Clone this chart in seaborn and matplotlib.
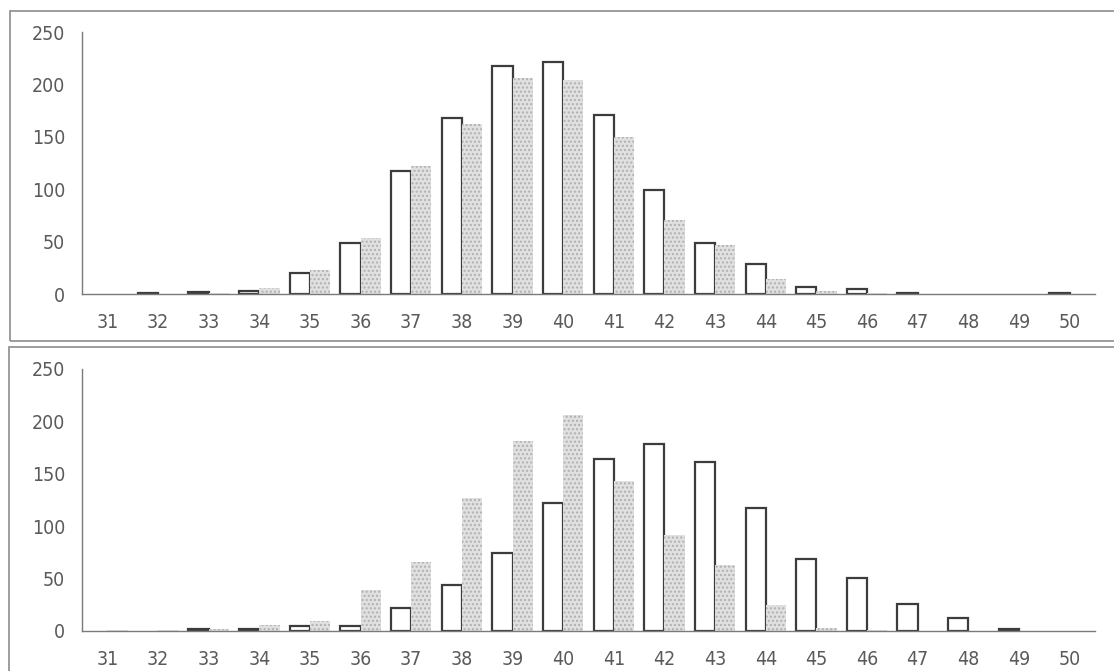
#!/bin/python

import seaborn as sns
import pandas as pd
import matplotlib
matplotlib.use("Agg")
import matplotlib.pyplot as plt
import matplotlib.patches as mpatches
from matplotlib.ticker import FixedLocator

classes = [str(v) for v in range(31, 51)]

top_white = [0, 1, 2, 3, 20, 49, 117, 168, 218, 221, 171, 99, 49, 29, 7, 5, 1, 0, 0, 1]
top_gray = [0, 0, 1, 6, 23, 53, 122, 162, 206, 204, 150, 71, 47, 14, 3, 1, 0, 0, 0, 0]

bottom_white = [0, 0, 1.5, 1.5, 5, 5, 22, 44, 74, 122, 164, 178, 161, 117, 69, 51, 26, 12, 2, 0]
bottom_gray = [1, 1, 2, 6, 10, 39, 66, 127, 181, 206, 143, 92, 63, 25, 3, 1, 0, 0, 0, 0]

yticks = [0, 50, 100, 150, 200, 250]

text_color = "#5a5a5a"
line_color = "#7a7a7a"
fontsize = 14

sns.set_style("white")
plt.rcParams["font.family"] = ["DejaVu Sans"]
plt.rcParams["font.stretch"] = "condensed"


def make_frame(white, gray):
	return pd.DataFrame({
		"class": classes * 2,
		"count": white + gray,
		"series": ["a"] * len(classes) + ["b"] * len(classes),
	})


def draw_panel(ax, white, gray):
	df = make_frame(white, gray)
	sns.barplot(
		data=df, x="class", y="count", hue="series",
		palette={"a": "white", "b": "#e0e0e0"},
		width=0.8, legend=False, ax=ax,
	)
	for bar in ax.containers[0]:
		bar.set_edgecolor("#3c3c3c")
		# empty classes show no mark at all
		bar.set_linewidth(1.6 if bar.get_height() > 0 else 0)
	for bar in ax.containers[1]:
		bar.set_edgecolor("#b0b0b0")
		bar.set_hatch("....")
		bar.set_linewidth(0)

	ax.set_xlim(-0.5, len(classes) - 0.5)
	ax.set_ylim(0, 250)
	ax.set_yticks(yticks)
	ax.set_xlabel("")
	ax.set_ylabel("")
	for side in ["top", "right"]:
		ax.spines[side].set_visible(False)
	for side in ["left", "bottom"]:
		ax.spines[side].set_color(line_color)
		ax.spines[side].set_linewidth(1)

	# boundaries between classes get the small upward ticks
	ax.xaxis.set_minor_locator(FixedLocator([i - 0.5 for i in range(len(classes) + 1)]))
	ax.tick_params(axis="x", which="major", length=0, pad=14,
		labelsize=fontsize, labelcolor=text_color)
	ax.tick_params(axis="x", which="minor", direction="in", length=5,
		width=0.8, color=line_color)
	ax.tick_params(axis="y", which="major", direction="in", length=5,
		width=0.8, color=line_color, pad=12, labelsize=fontsize, labelcolor=text_color)


fig = plt.figure(figsize=(11.14, 6.71), dpi=100)

# panel borders in pixel coords
W, H = 1114.0, 671.0
fig.patches.append(mpatches.Rectangle((10 / W, 1 - 341 / H), 1.2, (341 - 11) / H,
	transform=fig.transFigure, fill=False, edgecolor="#8c8c8c", linewidth=1.2))
fig.patches.append(mpatches.Rectangle((9 / W, -0.1), 1.2, 0.1 + (671 - 347) / H,
	transform=fig.transFigure, fill=False, edgecolor="#8c8c8c", linewidth=1.2))

ax_top = fig.add_axes([82 / W, 1 - 294 / H, (1095 - 82) / W, 262 / H])
ax_bottom = fig.add_axes([82 / W, 1 - 631 / H, (1095 - 82) / W, 262 / H])

draw_panel(ax_top, top_white, top_gray)
draw_panel(ax_bottom, bottom_white, bottom_gray)

fig.savefig("out.png", dpi=100)
